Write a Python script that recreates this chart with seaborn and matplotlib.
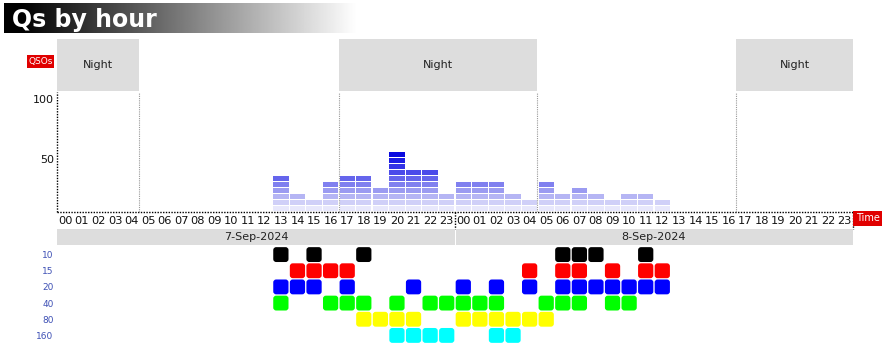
import numpy as np
import matplotlib
matplotlib.use("Agg")
import matplotlib.pyplot as plt
from matplotlib.patches import FancyBboxPatch
from matplotlib.transforms import ScaledTranslation
import seaborn as sns

# QSOs per hour (hour index counted from 00:00 on 7-Sep, 48 hours shown)
hours = [13, 14, 15, 16, 17, 18, 19, 20, 21, 22, 23, 24,
         25, 26, 27, 28, 29, 30, 31, 32, 33, 34, 35, 36]
qsos = [30, 15, 10, 25, 30, 30, 20, 50, 35, 35, 15, 25,
        25, 25, 15, 10, 25, 15, 20, 15, 10, 15, 15, 10]
y_ticks = [50, 100]

days = ["7-Sep-2024", "8-Sep-2024"]
nights = [(0, 4.93), (17.0, 28.92), (40.96, 48)]

# bands worked per hour
bands = ["10", "15", "20", "40", "80", "160"]
band_colors = ["#000000", "#ff0000", "#0000ff", "#00ff00", "#ffff00", "#00ffff"]
hours_10 = [13, 15, 18, 30, 31, 32, 35]
hours_15 = [14, 15, 16, 17, 28, 30, 31, 33, 35, 36]
hours_20 = [13, 14, 15, 17, 21, 24, 26, 28, 30, 31, 32, 33, 34, 35, 36]
hours_40 = [13, 16, 17, 18, 20, 22, 23, 24, 25, 26, 29, 30, 31, 33, 34]
hours_80 = [18, 19, 20, 21, 24, 25, 26, 27, 28, 29]
hours_160 = [20, 21, 22, 23, 26, 27]
band_hours = [hours_10, hours_15, hours_20, hours_40, hours_80, hours_160]

level_colors = ["#e8e8fc", "#d0d0f8", "#b5b5f4", "#9b9bf1", "#8080ef",
                "#6565ec", "#4b4bea", "#3333e7", "#1c1ce4", "#0a0ae0"]

sns.set_theme(style="white")
plt.rcParams["font.family"] = ["DejaVu Sans"]

W, H = 882, 360
fig = plt.figure(figsize=(W / 100, H / 100), dpi=100)


def px_axes(x0, y0, x1, y1):
    return fig.add_axes([x0 / W, 1 - y1 / H, (x1 - x0) / W, (y1 - y0) / H])


dot = (0, (1, 1))

# title band
ax_t = px_axes(4, 3, 356, 33)
grad = np.clip((np.linspace(0, 352, 400) - 16) / 336, 0, 1)
ax_t.imshow(grad[None, :], cmap="gray", aspect="auto", extent=(0, 1, 0, 1), vmin=0, vmax=1)
ax_t.set_axis_off()
ax_t.text(0.022, 0.45, "Qs by hour", color="white", fontsize=17, fontweight="bold",
          va="center", ha="left", transform=ax_t.transAxes)

# night band
ax_n = px_axes(57, 39, 853, 91)
ax_n.set_xlim(0, 48)
ax_n.set_ylim(0, 1)
ax_n.set_axis_off()
for s, e in nights:
    ax_n.axvspan(s, e, color="#dddddd", lw=0)
    ax_n.text((s + e) / 2, 0.5, "Night", ha="center", va="center", fontsize=8, color="#222222")

# main bars
ax = px_axes(57, 92, 853, 212)
ax.set_xlim(0, 48)
ax.set_ylim(0, 100)
for sp in ax.spines.values():
    sp.set_visible(False)
hrs = np.array(hours)
segs = np.array(qsos) // 5
for k in range(1, 11):
    m = segs >= k
    if m.any():
        ax.bar(hrs[m] + 0.04, 4.17, width=0.92, bottom=(k - 1) * 5 + 0.83,
               align="edge", color=level_colors[k - 1], lw=0)
for s, e in nights:
    for b in (s, e):
        if 0 < b < 48:
            ax.axvline(b, color="#999999", ls=dot, lw=0.8)
ax.axvline(0, color="black", ls=dot, lw=1, clip_on=False)
ax.axhline(0, color="black", ls=dot, lw=1, clip_on=False)
ax.plot([24, 24], [0, -14.2], color="black", ls=dot, lw=1, clip_on=False)
ax.plot([48, 48], [0, -14.2], color="black", ls=dot, lw=1, clip_on=False)

ax.set_yticks([])
ylab_tr = ax.get_yaxis_transform() + ScaledTranslation(-0.03, -0.08, fig.dpi_scale_trans)
for v in y_ticks:
    ax.text(0, v, str(v), transform=ylab_tr, ha="right", va="center", fontsize=8, color="#111111")
ax.set_xticks(np.arange(48) + 0.5)
ax.set_xticklabels([f"{h % 24:02d}" for h in range(48)], fontsize=8.2, color="#111111")
ax.tick_params(axis="both", length=0)
ax.tick_params(axis="x", pad=3.2)

fig.text(40.5 / W, 1 - 61.5 / H, "QSOs", fontsize=6.5, color="white", ha="center", va="center",
         bbox=dict(boxstyle="square,pad=0.2", fc="#e00000", ec="none"))
fig.text(867.5 / W, 1 - 218.5 / H, "Time", fontsize=7, color="white", ha="center", va="center",
         bbox=dict(boxstyle="square,pad=0.25", fc="#e00000", ec="none"))

# date bar
ax_d = px_axes(57, 229, 853, 245)
ax_d.set_xlim(0, 48)
ax_d.set_ylim(0, 1)
ax_d.set_axis_off()
for i, d in enumerate(days):
    ax_d.axvspan(i * 24 + (0.04 if i else 0), (i + 1) * 24 - (0 if i else 0.02), color="#dddddd", lw=0)
    ax_d.text(i * 24 + 12, 0.5, d, ha="center", va="center", fontsize=8, color="#222222")

# band grid
ax_b = px_axes(57, 246.5, 853, 343.5)
ax_b.set_xlim(0, 48)
ax_b.set_ylim(len(bands), 0)
for sp in ax_b.spines.values():
    sp.set_visible(False)
for r, (hl, c) in enumerate(zip(band_hours, band_colors)):
    for h in hl:
        ax_b.add_patch(FancyBboxPatch((h + 0.04, r + 0.04), 0.92, 0.92,
                                      boxstyle="round,pad=0,rounding_size=0.18",
                                      mutation_aspect=1.0, fc=c, ec="none"))
ax_b.set_xticks([])
ax_b.set_yticks(np.arange(len(bands)) + 0.5)
ax_b.set_yticklabels(bands, fontsize=6.5, color="#3f51b5")
ax_b.tick_params(axis="y", length=0, pad=2.5)

fig.savefig("out.png", dpi=100)
